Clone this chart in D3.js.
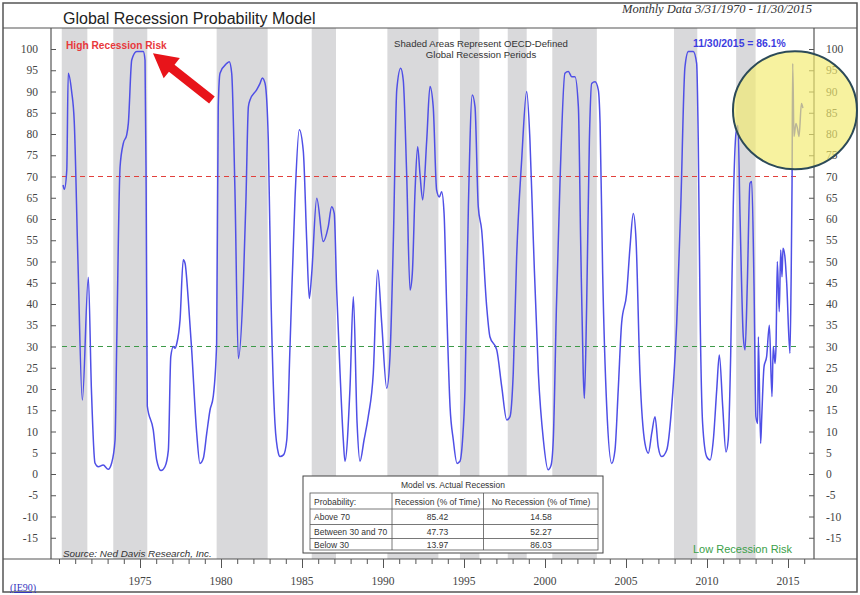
<!DOCTYPE html>
<html><head><meta charset="utf-8">
<script src="https://cdn.jsdelivr.net/npm/d3@7"></script>
<style>body{margin:0;background:#fff}svg{display:block}</style>
</head><body>
<svg id="c" width="860" height="595"></svg>
<script>
// ---------- data ----------
const years = [1970.25,1970.33,1970.48,1970.57,1970.78,1970.94,1971.17,1971.44,1971.81,1972.0,1972.22,1972.43,1972.73,1973.04,1973.25,1973.46,1973.56,1973.77,1973.97,1974.18,1974.28,1974.49,1974.8,1975.2,1975.31,1975.38,1975.45,1975.82,1976.03,1976.3,1976.54,1976.75,1976.9,1977.06,1977.16,1977.27,1977.47,1977.67,1977.78,1977.98,1978.19,1978.5,1978.7,1978.91,1979.12,1979.32,1979.52,1979.73,1979.83,1979.94,1980.35,1980.51,1980.66,1980.86,1981.07,1981.38,1981.54,1981.69,1981.79,1982.2,1982.41,1982.55,1982.72,1982.92,1983.09,1983.33,1983.54,1983.64,1983.86,1984.06,1984.26,1984.57,1984.83,1985.08,1985.29,1985.45,1985.6,1985.91,1986.31,1986.62,1986.83,1986.99,1987.14,1987.35,1987.55,1987.65,1987.96,1988.17,1988.4,1988.58,1988.83,1989.09,1989.4,1989.67,1989.92,1990.23,1990.43,1990.64,1990.85,1991.09,1991.25,1991.46,1991.67,1991.81,1991.98,1992.14,1992.28,1992.45,1992.7,1992.9,1993.1,1993.31,1993.48,1993.62,1993.77,1993.93,1994.14,1994.34,1994.57,1994.75,1994.91,1995.06,1995.27,1995.51,1995.68,1995.88,1996.09,1996.4,1996.6,1997.02,1997.33,1997.64,1997.84,1998.04,1998.25,1998.56,1998.87,1999.07,1999.28,1999.59,1999.9,2000.19,2000.37,2000.51,2000.71,2000.93,2001.23,2001.44,2001.65,2001.85,2002.06,2002.2,2002.36,2002.43,2002.57,2002.74,2002.88,2003.09,2003.29,2003.4,2003.56,2003.81,2004.12,2004.32,2004.52,2004.73,2005.04,2005.25,2005.45,2005.62,2005.86,2006.17,2006.38,2006.59,2006.79,2006.99,2007.2,2007.51,2007.82,2008.13,2008.38,2008.64,2008.85,2009.15,2009.36,2009.46,2009.57,2009.73,2009.98,2010.19,2010.39,2010.6,2010.76,2010.97,2011.17,2011.31,2011.46,2011.62,2011.79,2011.91,2012.04,2012.24,2012.35,2012.49,2012.65,2012.76,2012.9,2013.02,2013.13,2013.17,2013.31,2013.38,2013.52,2013.68,2013.85,2014.01,2014.09,2014.2,2014.26,2014.34,2014.46,2014.55,2014.63,2014.69,2014.81,2014.92,2015.12,2015.19,2015.25,2015.29,2015.37,2015.49,2015.6,2015.68,2015.83,2015.92];
const probability = [68,67,71.5,94.3,90,83,50,17.4,46.3,20,2.6,1.7,2.1,1.1,2.6,8,30,72.3,77.8,79.8,82.5,97.4,99.4,99.4,97.4,67,16,10.3,3.3,0.8,1.7,5.6,27.6,30,29.6,30.7,36.2,50.4,49.6,41,29.2,9.6,2.5,3.7,9.6,15,18.2,30.7,86.4,94.3,96.6,97,94.3,66.8,27.2,44.9,64.5,86.4,88,90.4,91.9,93.2,91.9,78.6,41,12,4.9,4.1,4.5,8,30,65,81,76,55,41.3,47.2,64.9,54.7,58.2,62.9,61.3,43.3,23.7,8,3,20,41.7,12,3,8,13.5,23.7,48,35.5,20.2,27.6,55,90.4,95.5,92.7,70.7,43.3,47.2,66.8,77,70.7,64.5,78.6,91.2,86.4,66.8,65.2,66.4,61.3,39.4,15.8,8,2.5,3,8,19.8,62.9,89.2,86.4,62.9,57.4,39.4,32.3,29.2,20.5,12.7,13.5,23.7,51.1,73.9,90,78.6,55,23.7,8,1,2,8,40,69.2,94.3,94.7,93.5,93.5,86.4,55,23.7,17.8,39.4,78.6,91.9,92.3,90.4,82.5,47.2,15.8,2.5,5.6,19.8,35.5,42.5,53.5,61.3,55,23.7,7.2,4.9,9.6,13.5,6.4,4.1,5.6,15.8,35.5,62.9,95.8,99.4,99.4,96.6,78.6,39.4,11.9,4.1,3.3,8,19.8,28,15.8,5.2,8,27.6,62.9,80.2,82,60.5,32.3,29.2,44.9,68.4,68.8,44.9,13.5,11.9,32.3,7.2,13.5,25.2,27.6,35,18.2,30,26,30,50,38.2,52.7,46.4,53.1,51.1,44.9,28.4,44.9,68.4,96.6,79.4,82.5,81,79.4,87.2,86.1];
const recessionStarts = [1970.17,1973.35,1979.73,1985.6,1990.27,1994.75,1997.7,2000.45,2007.96,2011.8];
const recessionEnds   = [1971.75,1975.45,1982.88,1987.1,1993.42,1995.95,1998.87,2003.2,2009.4,2013.0];
const yTickValues = d3.range(-15, 101, 5);
const xLabelYears = [1975,1980,1985,1990,1995,2000,2005,2010,2015];
const xMinorYears = d3.range(1970, 2017, 1);
const highRisk = 70, lowRisk = 30;
const tableTitle = "Model vs. Actual Recession";
const tableHeaders = ["Probability:", "Recession (% of Time)", "No Recession (% of Time)"];
const tableRows = ["Above 70", "Between 30 and 70", "Below 30"];
const recessionPct = ["85.42", "47.73", "13.97"];
const noRecessionPct = ["14.58", "52.27", "86.03"];
const lastLabel = "11/30/2015 = 86.1%";

// ---------- layout ----------
const svg = d3.select("#c");
const L = 51, R = 814, T = 28, B = 559;
const x = d3.scaleLinear().domain([1975, 2015]).range([140, 788]);
const y = d3.scaleLinear().domain([0, 100]).range([474, 49]);
const serif = "'Liberation Serif','Times New Roman',serif";
const sans = "'Liberation Sans',Arial,sans-serif";

// recession bands
svg.append("g").selectAll("rect").data(recessionStarts).join("rect")
  .attr("x", d => x(d)).attr("y", T)
  .attr("width", (d, i) => x(recessionEnds[i]) - x(d)).attr("height", B - T)
  .attr("fill", "#d9d9db");

// reference lines
svg.append("line").attr("x1", 62).attr("x2", 800).attr("y1", y(highRisk)).attr("y2", y(highRisk))
  .attr("stroke", "#e2403c").attr("stroke-width", 1).attr("stroke-dasharray", "5,4");
svg.append("line").attr("x1", 62).attr("x2", 800).attr("y1", y(lowRisk)).attr("y2", y(lowRisk))
  .attr("stroke", "#3d9a48").attr("stroke-width", 1).attr("stroke-dasharray", "5,4");

// data line
const pts = years.map((d, i) => [d, probability[i]]);
svg.append("path").datum(pts)
  .attr("d", d3.line().x(d => x(d[0])).y(d => y(d[1])).curve(d3.curveMonotoneX))
  .attr("fill", "none").attr("stroke", "#4f4fe6").attr("stroke-width", 1.5);

// frame lines
const fg = svg.append("g").attr("stroke", "#555").attr("fill", "none");
fg.append("rect").attr("x", 3).attr("y", 3).attr("width", 854).attr("height", 589).attr("stroke-width", 1.5);
fg.append("line").attr("x1", 3).attr("x2", 857).attr("y1", T).attr("y2", T).attr("stroke-width", 1.2);
fg.append("line").attr("x1", 3).attr("x2", 857).attr("y1", B).attr("y2", B).attr("stroke-width", 1.2);
fg.append("line").attr("x1", L).attr("x2", L).attr("y1", T).attr("y2", B).attr("stroke-width", 1.2);
fg.append("line").attr("x1", R).attr("x2", R).attr("y1", T).attr("y2", B).attr("stroke-width", 1.2);

// y axes
const yl = svg.append("g").attr("transform", `translate(${L},0)`)
  .call(d3.axisRight(y).tickValues(yTickValues).tickSize(5).tickFormat(""));
yl.select(".domain").remove();
yl.selectAll("line").attr("stroke", "#555");
const yr = svg.append("g").attr("transform", `translate(${R},0)`)
  .call(d3.axisLeft(y).tickValues(yTickValues).tickSize(5).tickFormat(""));
yr.select(".domain").remove();
yr.selectAll("line").attr("stroke", "#555");
svg.append("g").selectAll("text").data(yTickValues).join("text")
  .attr("x", 38).attr("y", d => y(d) + 4).attr("text-anchor", "end")
  .attr("font-family", serif).attr("font-size", 11.5).attr("fill", "#444").text(d => d);
svg.append("g").selectAll("text").data(yTickValues).join("text")
  .attr("x", 826).attr("y", d => y(d) + 4).attr("text-anchor", "start")
  .attr("font-family", serif).attr("font-size", 11.5).attr("fill", "#444").text(d => d);

// x axis
const xm = svg.append("g").attr("transform", `translate(0,${B})`)
  .call(d3.axisBottom(x).tickValues(xMinorYears).tickSize(5).tickFormat(""));
xm.select(".domain").remove(); xm.selectAll("line").attr("stroke", "#555");
const xM = svg.append("g").attr("transform", `translate(0,${B})`)
  .call(d3.axisBottom(x).tickValues(xLabelYears).tickSize(9).tickFormat(""));
xM.select(".domain").remove(); xM.selectAll("line").attr("stroke", "#555");
svg.append("g").selectAll("text").data(xLabelYears).join("text")
  .attr("x", d => x(d)).attr("y", 585).attr("text-anchor", "middle")
  .attr("font-family", serif).attr("font-size", 11.5).attr("fill", "#444").text(d => d);

// titles
svg.append("text").attr("x", 63).attr("y", 24).attr("font-family", sans).attr("font-size", 16)
  .attr("fill", "#222").text("Global Recession Probability Model");
svg.append("text").attr("x", 622).attr("y", 13).attr("font-family", serif).attr("font-style", "italic")
  .attr("font-size", 12.5).attr("fill", "#333").text("Monthly Data 3/31/1970 - 11/30/2015");

// annotations
svg.append("text").attr("x", 66).attr("y", 49).attr("font-family", sans).attr("font-size", 10.2)
  .attr("font-weight", "bold").attr("fill", "#e8383c").text("High Recession Risk");
const note = svg.append("text").attr("font-family", sans).attr("font-size", 9.6).attr("fill", "#333").attr("text-anchor", "middle");
note.append("tspan").attr("x", 481).attr("y", 47).text("Shaded Areas Represent OECD-Defined");
note.append("tspan").attr("x", 481).attr("y", 57.5).text("Global Recession Periods");
svg.append("text").attr("x", 693).attr("y", 47).attr("font-family", sans).attr("font-size", 10.4)
  .attr("font-weight", "bold").attr("fill", "#3c3ce0").text(lastLabel);
svg.append("text").attr("x", 693).attr("y", 553).attr("font-family", sans).attr("font-size", 11)
  .attr("fill", "#3aa048").text("Low Recession Risk");
svg.append("text").attr("x", 63).attr("y", 557).attr("font-family", sans).attr("font-style", "italic")
  .attr("font-size", 9.9).attr("fill", "#333").text("Source: Ned Davis Research, Inc.");
svg.append("text").attr("x", 10).attr("y", 591).attr("font-family", serif).attr("font-size", 10)
  .attr("fill", "#3535c0").attr("text-decoration", "underline").text("(IE90)");

// red arrow
(function () {
  const tip = [x(1975.8), y(99)], tail = [x(1979.44), y(88)];
  const dx = tip[0] - tail[0], dy = tip[1] - tail[1], len = Math.hypot(dx, dy);
  const ux = dx / len, uy = dy / len, nx = -uy, ny = ux;
  const hl = 24, hw = 13, sw = 4.5;
  const bx = tip[0] - ux * hl, by = tip[1] - uy * hl;
  const p = [
    [tail[0] + nx * sw, tail[1] + ny * sw], [bx + nx * sw, by + ny * sw], [bx + nx * hw, by + ny * hw],
    tip, [bx - nx * hw, by - ny * hw], [bx - nx * sw, by - ny * sw], [tail[0] - nx * sw, tail[1] - ny * sw]];
  svg.append("polygon").attr("points", p.map(d => d.join(",")).join(" ")).attr("fill", "#e8141a");
})();

// table
const tg = svg.append("g").attr("font-family", sans).attr("font-size", 8.5).attr("fill", "#333");
tg.append("rect").attr("x", 303).attr("y", 476).attr("width", 300).attr("height", 77)
  .attr("fill", "#fff").attr("stroke", "#444").attr("stroke-width", 1);
tg.append("rect").attr("x", 310).attr("y", 493).attr("width", 288).attr("height", 57)
  .attr("fill", "none").attr("stroke", "#555").attr("stroke-width", 0.8);
[509, 524.5, 538.5].forEach(v => tg.append("line").attr("x1", 310).attr("x2", 598).attr("y1", v).attr("y2", v)
  .attr("stroke", "#555").attr("stroke-width", 0.8));
[392, 483.5].forEach(v => tg.append("line").attr("x1", v).attr("x2", v).attr("y1", 493).attr("y2", 550)
  .attr("stroke", "#555").attr("stroke-width", 0.8));
tg.append("text").attr("x", 453).attr("y", 488).attr("text-anchor", "middle").text(tableTitle);
const colX = [314, 437.5, 541];
const rowY = [504.5, 520, 534.5, 547.5];
tableHeaders.forEach((h, i) => tg.append("text").attr("x", colX[i]).attr("y", rowY[0])
  .attr("text-anchor", i ? "middle" : "start").text(h));
tableRows.forEach((r, i) => {
  tg.append("text").attr("x", colX[0]).attr("y", rowY[i + 1]).text(r);
  tg.append("text").attr("x", colX[1]).attr("y", rowY[i + 1]).attr("text-anchor", "middle").text(recessionPct[i]);
  tg.append("text").attr("x", colX[2]).attr("y", rowY[i + 1]).attr("text-anchor", "middle").text(noRecessionPct[i]);
});

// yellow highlight circle
svg.append("ellipse").attr("cx", x(2015.43)).attr("cy", y(85.6)).attr("rx", 62).attr("ry", 59)
  .attr("fill", "rgb(243,236,110)").attr("fill-opacity", 0.66)
  .attr("stroke", "#2c4a58").attr("stroke-width", 2);
</script>
</body></html>
